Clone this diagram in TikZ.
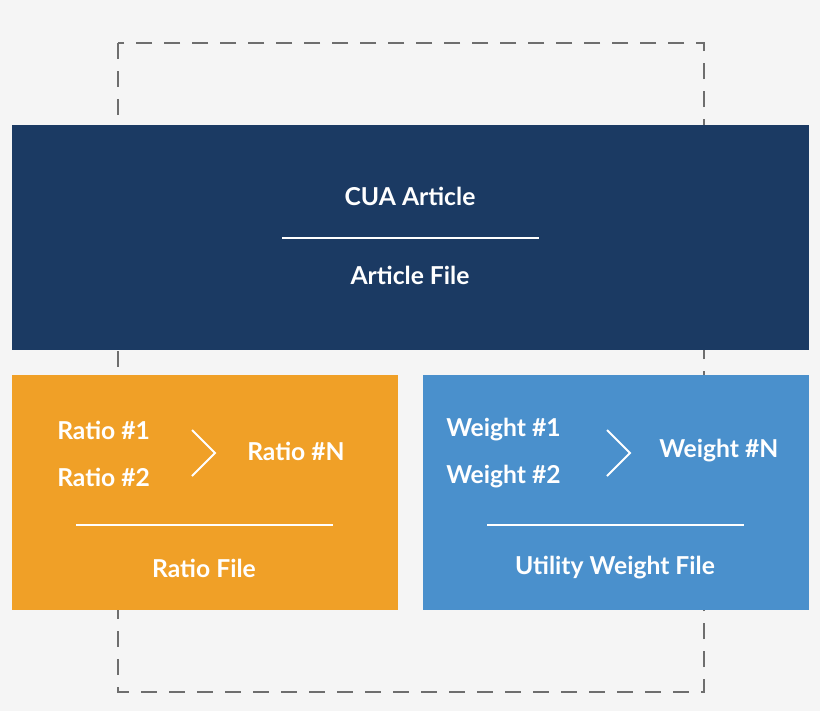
\documentclass[tikz,border=0pt]{standalone}
\usepackage{fontspec}
\setmainfont{Lato}
\usetikzlibrary{positioning}
\definecolor{bgray}{HTML}{F5F5F5}
\definecolor{navy}{HTML}{1B3A63}
\definecolor{ratioorange}{HTML}{F0A027}
\definecolor{weightblue}{HTML}{4A90CC}
\definecolor{dashgray}{HTML}{6E6E6E}

\begin{document}
\begin{tikzpicture}[
    x=0.75pt, y=-0.75pt,
    every node/.style={text=white, font=\bfseries\fontsize{18.5}{22}\selectfont, inner sep=0pt},
    rule/.style={draw=white, line width=1.2pt},
    chevron/.style={draw=white, line width=1.4pt}
]
\fill[bgray] (0,0) rectangle (820,711);
\useasboundingbox (0,0) rectangle (820,711);
\draw[dashgray, line width=2pt, dash pattern=on 12pt off 9pt] (118,43) rectangle (704,692);

% boxes
\fill[navy]        (12,125) rectangle (809,350);
\fill[ratioorange] (12,375) rectangle (398,610);
\fill[weightblue]  (423,375) rectangle (809,610);

% top panel
\node (cua)     at (410,196) {CUA Article};
\node (artfile) at (410,275) {Article File};
\draw[rule] (282,238) -- (539,238);

% ratio panel
\node (ratio1) [anchor=west] at (57,430) {Ratio \#1};
\node (ratio2) [anchor=west] at (57,477) {Ratio \#2};
\node (ration) [anchor=west] at (247,451) {Ratio \#N};
\draw[chevron] (192,430) -- (215,453) -- (192,476);
\draw[rule] (76,525) -- (333,525);
\node (ratiofile) at (204,568) {Ratio File};

% weight panel
\node (weight1) [anchor=west] at (446,430) {Weight \#1};
\node (weight2) [anchor=west] at (446,477) {Weight \#2};
\node (weightn) [anchor=west] at (659,451) {Weight \#N};
\draw[chevron] (607,430) -- (630,453) -- (607,476);
\draw[rule] (487,525) -- (744,525);
\node (utilfile) at (615,568) {Utility Weight File};
\end{tikzpicture}
\end{document}
